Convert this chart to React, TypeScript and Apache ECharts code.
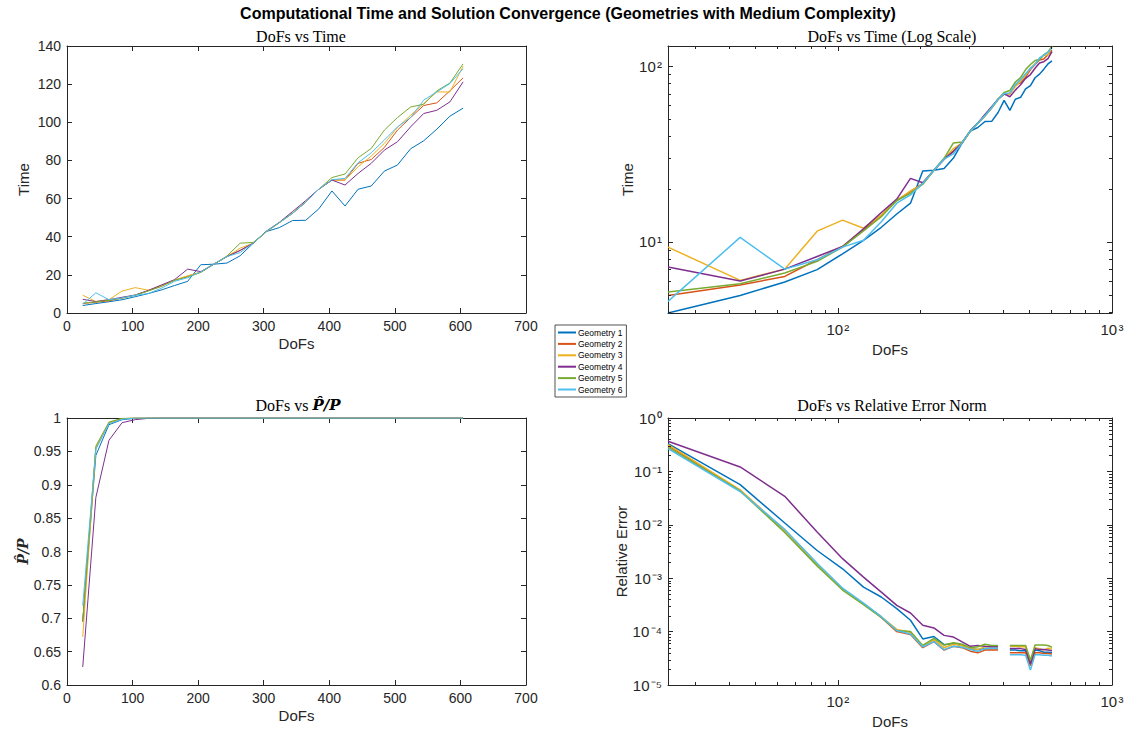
import React, { useEffect, useRef } from 'react';
import * as echarts from 'echarts';

// ---------- data ----------
const DOFS = [24, 44, 64, 84, 104, 124, 144, 164, 184, 204, 224, 244, 264, 284, 304, 324, 344, 364, 384, 404, 424, 444, 464, 484, 504, 524, 544, 564, 584, 604];
const GEOMETRIES = ['Geometry 1', 'Geometry 2', 'Geometry 3', 'Geometry 4', 'Geometry 5', 'Geometry 6'];
const COLORS = ['#0072BD', '#D95319', '#EDB120', '#7E2F8E', '#77AC30', '#4DBEEE'];

const TIME_G1 = [3.93, 4.95, 5.9, 6.94, 8.55, 10.2, 12.1, 14.4, 16.6, 25.3, 25.6, 26.2, 30.0, 36.6, 42.7, 44.8, 48.5, 48.6, 54.6, 64.0, 56.1, 64.9, 66.6, 74.4, 77.6, 86.1, 90.3, 96.4, 103.2, 107.4];
const TIME_G2 = [4.95, 5.67, 6.35, 7.9, 9.4, 11.7, 14.2, 17.2, 19.3, 21.5, 25.6, 29.6, 32.8, 36.6, 42.7, 47.4, 52.3, 58.1, 64.9, 69.7, 69.7, 78.5, 80.5, 86.8, 95.9, 102.5, 108.8, 110.2, 116.5, 123.3];
const TIME_G3 = [9.33, 6.03, 6.99, 11.5, 13.3, 11.96, 14.2, 17.2, 19.5, 21.3, 25.6, 29.6, 34.0, 36.6, 42.5, 47.4, 52.3, 58.1, 64.9, 69.7, 69.7, 76.7, 82.3, 88.9, 97.3, 103.7, 109.8, 115.9, 115.9, 129.4];
const TIME_G4 = [7.18, 5.98, 6.99, 8.25, 9.4, 11.85, 14.7, 17.5, 23.0, 21.7, 25.6, 29.6, 32.8, 36.6, 42.9, 47.6, 53.2, 58.9, 64.9, 69.7, 67.1, 73.2, 78.5, 85.4, 89.8, 97.6, 104.6, 106.3, 110.7, 121.2];
const TIME_G5 = [5.18, 5.77, 6.64, 7.74, 9.33, 11.55, 13.9, 17.2, 18.9, 21.3, 25.6, 29.9, 36.6, 37.0, 42.7, 47.4, 52.3, 58.1, 64.9, 71.0, 72.9, 81.4, 86.3, 95.9, 102.5, 108.0, 109.5, 116.5, 120.6, 130.6];
const TIME_G6 = [4.58, 10.6, 6.99, 7.9, 9.33, 10.2, 13.0, 16.6, 18.5, 21.5, 25.6, 29.6, 31.7, 36.6, 42.7, 47.4, 52.3, 58.1, 64.9, 69.9, 70.6, 78.8, 84.0, 90.7, 97.6, 102.5, 111.6, 115.9, 120.3, 128.1];

const RATIO_G1 = [0.695, 0.944, 0.990, 0.9975, 0.9995, 1, 1, 1, 1, 1, 1, 1, 1, 1, 1, 1, 1, 1, 1, 1, 1, 1, 1, 1, 1, 1, 1, 1, 1, 1];
const RATIO_G2 = [0.695, 0.955, 0.993, 0.999, 1, 1, 1, 1, 1, 1, 1, 1, 1, 1, 1, 1, 1, 1, 1, 1, 1, 1, 1, 1, 1, 1, 1, 1, 1, 1];
const RATIO_G3 = [0.672, 0.955, 0.993, 0.999, 1, 1, 1, 1, 1, 1, 1, 1, 1, 1, 1, 1, 1, 1, 1, 1, 1, 1, 1, 1, 1, 1, 1, 1, 1, 1];
const RATIO_G4 = [0.627, 0.881, 0.9666, 0.993, 0.9975, 0.9995, 1, 1, 1, 1, 1, 1, 1, 1, 1, 1, 1, 1, 1, 1, 1, 1, 1, 1, 1, 1, 1, 1, 1, 1];
const RATIO_G5 = [0.695, 0.958, 0.994, 0.9995, 1, 1, 1, 1, 1, 1, 1, 1, 1, 1, 1, 1, 1, 1, 1, 1, 1, 1, 1, 1, 1, 1, 1, 1, 1, 1];
const RATIO_G6 = [0.719, 0.953, 0.9915, 0.998, 1, 1, 1, 1, 1, 1, 1, 1, 1, 1, 1, 1, 1, 1, 1, 1, 1, 1, 1, 1, 1, 1, 1, 1, 1, 1];

const ERR_G1 = [0.33, 0.0565, 0.0108, 0.0033, 0.0015, 6.8e-4, 4.45e-4, 2.7e-4, 1.63e-4, 7.3e-5, 8.1e-5, 5.7e-5, 6.0e-5, 5.5e-5, 4.8e-5, 4.6e-5, 4.8e-5, 4.8e-5, 4.8e-5, null, 4.5e-5, 4.5e-5, 4.4e-5, 4.4e-5, 2.7e-5, 4.5e-5, 4.4e-5, 4.1e-5, 4.1e-5, 4.0e-5];
const ERR_G2 = [0.308, 0.044, 0.0079, 0.00185, 6.3e-4, 3.3e-4, 1.85e-4, 1.0e-4, 8.8e-5, 5.0e-5, 6.5e-5, 4.5e-5, 5.3e-5, 5.0e-5, 4.3e-5, 4.0e-5, 4.5e-5, 4.5e-5, 4.5e-5, null, 4.0e-5, 4.0e-5, 4.0e-5, 4.0e-5, 2.3e-5, 4.0e-5, 4.0e-5, 3.9e-5, 3.9e-5, 3.8e-5];
const ERR_G3 = [0.317, 0.045, 0.0078, 0.0018, 6.2e-4, 3.3e-4, 1.9e-4, 1.1e-4, 9.6e-5, 5.3e-5, 7.0e-5, 5.0e-5, 5.8e-5, 5.5e-5, 4.8e-5, 4.6e-5, 5.2e-5, 5.2e-5, 5.2e-5, null, 5.3e-5, 5.3e-5, 5.2e-5, 5.2e-5, 2.8e-5, 5.0e-5, 4.8e-5, 4.5e-5, 4.9e-5, 4.7e-5];
const ERR_G4 = [0.366, 0.121, 0.0341, 0.00733, 0.00232, 0.00105, 5.5e-4, 3.1e-4, 2.23e-4, 1.31e-4, 1.17e-4, 8.5e-5, 7.9e-5, 6.4e-5, 5.3e-5, 5.5e-5, 5.3e-5, 5.2e-5, 5.2e-5, null, 4.8e-5, 4.8e-5, 4.8e-5, 4.6e-5, 2.5e-5, 4.8e-5, 4.6e-5, 4.6e-5, 4.5e-5, 4.4e-5];
const ERR_G5 = [0.286, 0.043, 0.0072, 0.0017, 6.0e-4, 3.2e-4, 1.85e-4, 1.05e-4, 1.0e-4, 5.5e-5, 7.5e-5, 5.6e-5, 6.2e-5, 5.8e-5, 5.0e-5, 5.2e-5, 5.8e-5, 5.5e-5, 5.5e-5, null, 5.5e-5, 5.5e-5, 5.5e-5, 5.5e-5, 2.9e-5, 5.6e-5, 5.6e-5, 5.6e-5, 5.5e-5, 5.1e-5];
const ERR_G6 = [0.266, 0.042, 0.0082, 0.0019, 6.5e-4, 3.4e-4, 1.9e-4, 1.05e-4, 9.0e-5, 5.2e-5, 6.5e-5, 4.6e-5, 5.3e-5, 5.1e-5, 4.6e-5, 4.3e-5, 4.8e-5, 4.9e-5, 4.9e-5, null, 3.7e-5, 3.7e-5, 3.7e-5, 3.6e-5, 1.9e-5, 3.7e-5, 3.7e-5, 3.6e-5, 3.6e-5, 3.5e-5];

const TIME = [TIME_G1, TIME_G2, TIME_G3, TIME_G4, TIME_G5, TIME_G6];
const RATIO = [RATIO_G1, RATIO_G2, RATIO_G3, RATIO_G4, RATIO_G5, RATIO_G6];
const ERR = [ERR_G1, ERR_G2, ERR_G3, ERR_G4, ERR_G5, ERR_G6];

// ---------- styling ----------
const AX = '#262626';
const SANS = "'Liberation Sans', Arial, Helvetica, sans-serif";
const SERIF = "'Liberation Serif', 'Times New Roman', serif";

const SUP: Record<string, string> = {
  '0': '\u2070', '1': '\u00B9', '2': '\u00B2', '3': '\u00B3', '4': '\u2074',
  '5': '\u2075', '6': '\u2076', '7': '\u2077', '8': '\u2078', '9': '\u2079', '-': '\u207B',
};
const logFormatter = (v: number) => {
  const l = Math.log10(v);
  const e = Math.round(l);
  if (Math.abs(l - e) > 1e-6) return '';
  return '10\u200A' + String(e).split('').map((c) => SUP[c] || c).join('');
};

// minor tick values (2..9 x 10^k) inside [lo, hi]
function minorTickValues(lo: number, hi: number): number[] {
  const out: number[] = [];
  for (let k = Math.floor(Math.log10(lo)); k <= Math.ceil(Math.log10(hi)); k++) {
    for (let m = 2; m <= 9; m++) {
      const v = m * Math.pow(10, k);
      if (v > lo * 1.0001 && v < hi * 0.9999) out.push(v);
    }
  }
  return out;
}

function axisPair(dir: 'x' | 'y', gridIndex: number, cfg: any) {
  const base: any = {
    gridIndex,
    type: cfg.type,
    min: cfg.min,
    max: cfg.max,
    splitLine: { show: false },
    axisLine: { show: true, onZero: false, lineStyle: { color: AX, width: 1 } },
    axisTick: { show: true, inside: true, length: 5, lineStyle: { color: AX, width: 1 } },
  };
  if (cfg.type === 'log') base.logBase = 10;
  if (cfg.interval !== undefined) base.interval = cfg.interval;
  const primary: any = {
    ...base,
    position: dir === 'x' ? 'bottom' : 'left',
    name: cfg.name,
    nameLocation: 'middle',
    nameGap: cfg.nameGap,
    nameTextStyle: cfg.nameTextStyle || { fontFamily: SANS, fontSize: 15, color: AX },
    axisLabel: cfg.type === 'log'
      ? {
          show: true, formatter: logFormatter, fontFamily: SANS, fontSize: 15, color: AX,
          margin: cfg.labelMargin ?? 6,
          showMinLabel: cfg.showMin ?? false, showMaxLabel: cfg.showMax ?? true, hideOverlap: false,
        }
      : { show: true, fontFamily: SANS, fontSize: 14, color: AX, margin: cfg.labelMargin ?? 6 },
  };
  const secondary: any = {
    ...base,
    position: dir === 'x' ? 'top' : 'right',
    axisLabel: { show: false },
  };
  return [primary, secondary];
}

const allTime = TIME.flat();
const TMIN = Math.min(...allTime);
const TMAX = Math.max(...allTime);
const XLOG_MIN = DOFS[0];
const XLOG_MAX = 1000;
const ERR_MIN = 1e-5;
const ERR_MAX = 1;

const GRIDS = [
  { left: 67, top: 46, width: 459, height: 267 },
  { left: 668, top: 46, width: 444, height: 267 },
  { left: 67, top: 418, width: 459, height: 267 },
  { left: 668, top: 418, width: 444, height: 267 },
];

function minorTickSeries(g: number, xr: [number, number], yr: [number, number]) {
  const xRef = Math.sqrt(xr[0] * xr[1]);
  const yRef = Math.sqrt(yr[0] * yr[1]);
  const data: number[][] = [
    ...minorTickValues(xr[0], xr[1]).map((v) => [v, yRef, 0]),
    ...minorTickValues(yr[0], yr[1]).map((v) => [xRef, v, 1]),
  ];
  return {
    type: 'custom',
    coordinateSystem: 'cartesian2d',
    xAxisIndex: 2 * g,
    yAxisIndex: 2 * g,
    silent: true,
    clip: false,
    z: 5,
    encode: { x: 0, y: 1 },
    data,
    renderItem: (params: any, api: any) => {
      const cs = params.coordSys;
      const p = api.coord([api.value(0), api.value(1)]);
      const L = 3;
      const st = { stroke: AX, lineWidth: 1 };
      if (api.value(2) === 0) {
        const x = Math.round(p[0]) + 0.5;
        return {
          type: 'group',
          children: [
            { type: 'line', shape: { x1: x, y1: cs.y + cs.height, x2: x, y2: cs.y + cs.height - L }, style: st },
            { type: 'line', shape: { x1: x, y1: cs.y, x2: x, y2: cs.y + L }, style: st },
          ],
        };
      }
      const y = Math.round(p[1]) + 0.5;
      return {
        type: 'group',
        children: [
          { type: 'line', shape: { x1: cs.x, y1: y, x2: cs.x + L, y2: y }, style: st },
          { type: 'line', shape: { x1: cs.x + cs.width, y1: y, x2: cs.x + cs.width - L, y2: y }, style: st },
        ],
      };
    },
  };
}

function buildOption() {
  const xAxis: any[] = [
    ...axisPair('x', 0, { type: 'value', min: 0, max: 700, interval: 100, name: 'DoFs', nameGap: 23 }),
    ...axisPair('x', 1, { type: 'log', min: XLOG_MIN, max: XLOG_MAX, name: 'DoFs', nameGap: 29, labelMargin: 9, showMin: false, showMax: true }),
    ...axisPair('x', 2, { type: 'value', min: 0, max: 700, interval: 100, name: 'DoFs', nameGap: 23 }),
    ...axisPair('x', 3, { type: 'log', min: XLOG_MIN, max: XLOG_MAX, name: 'DoFs', nameGap: 29, labelMargin: 9, showMin: false, showMax: true }),
  ];
  const yAxis: any[] = [
    ...axisPair('y', 0, { type: 'value', min: 0, max: 140, interval: 20, name: 'Time', nameGap: 36 }),
    ...axisPair('y', 1, { type: 'log', min: TMIN, max: TMAX, name: 'Time', nameGap: 33, showMin: false, showMax: false }),
    ...axisPair('y', 2, {
      type: 'value', min: 0.6, max: 1, interval: 0.05, name: 'P\u0302/P', nameGap: 32,
      nameTextStyle: { fontFamily: "'DejaVu Serif', serif", fontStyle: 'italic', fontWeight: 'bold', fontSize: 14, color: AX },
    }),
    ...axisPair('y', 3, { type: 'log', min: ERR_MIN, max: ERR_MAX, name: 'Relative Error', nameGap: 34, showMin: true, showMax: true }),
  ];

  const series: any[] = [];
  const sets = [TIME, TIME, RATIO, ERR];
  const widths = [1, 1.5, 1, 1.5];
  sets.forEach((set, g) => {
    set.forEach((arr, i) => {
      series.push({
        type: 'line',
        name: GEOMETRIES[i],
        xAxisIndex: 2 * g,
        yAxisIndex: 2 * g,
        data: DOFS.map((d, k) => [d, arr[k] === null ? '-' : arr[k]]),
        symbol: 'none',
        showSymbol: false,
        connectNulls: false,
        color: COLORS[i],
        lineStyle: { color: COLORS[i], width: widths[g] },
        emphasis: { disabled: true },
      });
    });
  });
  series.push(minorTickSeries(1, [XLOG_MIN, XLOG_MAX], [TMIN, TMAX]));
  series.push(minorTickSeries(3, [XLOG_MIN, XLOG_MAX], [ERR_MIN, ERR_MAX]));

  const subTitle = (text: string, left: number, top: number, rich?: any) => ({
    text,
    left,
    top,
    textAlign: 'center',
    padding: 0,
    textStyle: { fontFamily: SERIF, fontSize: 16, fontWeight: 'normal', color: '#000', rich },
  });

  return {
    animation: false,
    backgroundColor: '#ffffff',
    title: [
      {
        text: 'Computational Time and Solution Convergence (Geometries with Medium Complexity)',
        left: 568, top: 5, textAlign: 'center', padding: 0,
        textStyle: { fontFamily: SANS, fontSize: 16, fontWeight: 'bold', color: '#000' },
      },
      subTitle('DoFs vs Time', 301, 28),
      subTitle('DoFs vs Time (Log Scale)', 892, 28),
      subTitle('{n|DoFs vs }{p|P\u0302/P}', 298, 397, {
        n: { fontFamily: SERIF, fontSize: 16, color: '#000' },
        p: { fontFamily: "'DejaVu Serif', serif", fontSize: 15, fontStyle: 'italic', fontWeight: 'bold', color: '#000' },
      }),
      subTitle('DoFs vs Relative Error Norm', 892, 397),
    ],
    legend: {
      data: GEOMETRIES,
      orient: 'vertical',
      left: 555,
      top: 325,
      icon: 'rect',
      itemWidth: 18,
      itemHeight: 2,
      itemGap: 2.4,
      padding: [3, 4, 3, 3],
      borderColor: AX,
      borderWidth: 0.8,
      backgroundColor: '#fff',
      textStyle: { fontFamily: SANS, fontSize: 8.5, color: '#000', padding: [0, 0, 0, -3] },
    },
    grid: GRIDS.map((g) => ({ ...g, containLabel: false })),
    xAxis,
    yAxis,
    series,
  };
}

export default function App() {
  const ref = useRef<HTMLDivElement>(null);
  useEffect(() => {
    if (!ref.current) return;
    const chart = echarts.init(ref.current, undefined, { renderer: 'svg' });
    chart.setOption(buildOption() as any);
    return () => chart.dispose();
  }, []);
  return (
    <div
      ref={ref}
      style={{ position: 'fixed', left: 0, top: 0, width: 1143, height: 731, background: '#fff' }}
    />
  );
}
